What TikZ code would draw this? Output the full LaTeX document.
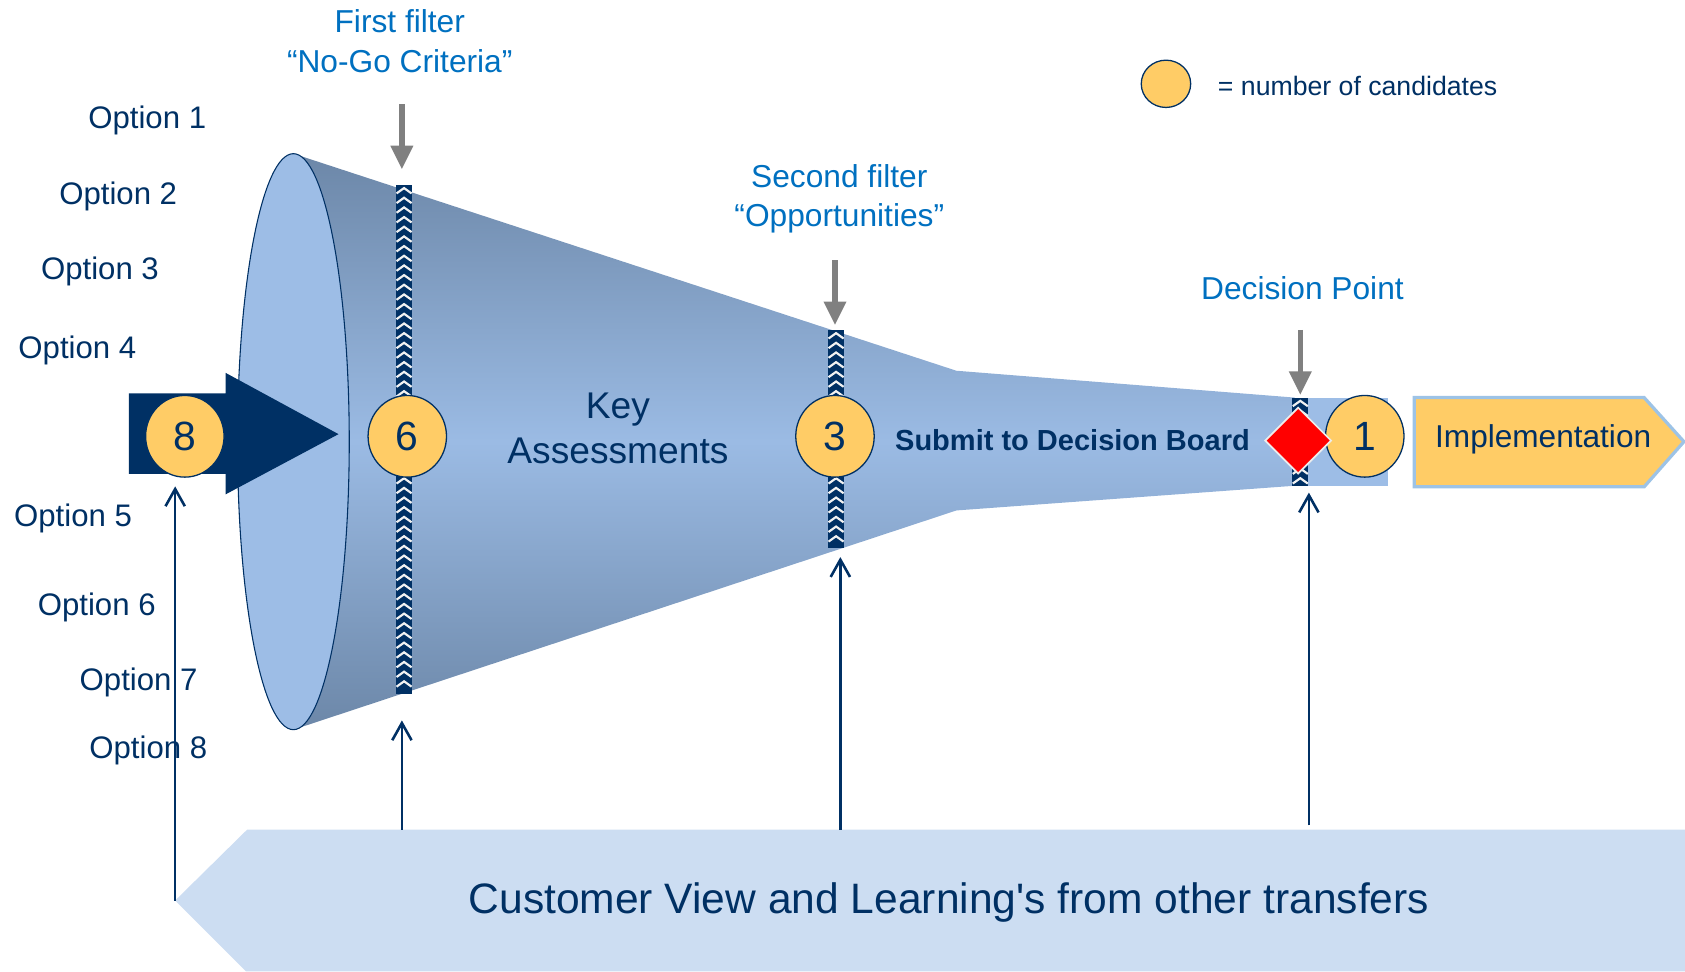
\documentclass[tikz,border=0pt]{standalone}
\usepackage{fontspec}
\setmainfont{Liberation Sans}[Ligatures=TeXOff]
\usetikzlibrary{shapes.geometric,arrows.meta}
\definecolor{navy}{RGB}{0,48,100}
\definecolor{filterblue}{RGB}{0,112,192}
\definecolor{candyellow}{RGB}{255,204,102}
\definecolor{conedark}{RGB}{108,135,168}
\definecolor{conelight}{RGB}{155,187,228}
\definecolor{mouthblue}{RGB}{157,189,230}
\definecolor{bandblue}{RGB}{204,221,242}
\definecolor{implborder}{RGB}{157,195,230}
% filter bar with chevrons: name, x, top, bottom
\newcommand{\sieve}[4]{%
  \node[sievebar, minimum height={(#4-#3)*0.5pt}] (#1) at (#2,{(#3+#4)/2}) {};
  \pgfmathtruncatemacro{\nzig}{(#4-#3-9)/9}
  \foreach \k in {0,...,\nzig}
    \draw[zig] (#2-7,#3+8+9*\k) -- (#2,#3+3+9*\k) -- (#2+7,#3+8+9*\k);
}

\begin{document}
\begin{tikzpicture}[x=0.5pt, y=-0.5pt,
  opt/.style={font=\fontsize{14.5}{17}\selectfont, text=navy, inner sep=0pt},
  filterlabel/.style={font=\fontsize{14.75}{18.5}\selectfont, text=filterblue, align=center, inner sep=0pt},
  cand/.style={ellipse, draw=navy, line width=0.6pt, fill=candyellow, minimum width=36.5pt, minimum height=38pt, inner sep=0pt, font=\fontsize{19}{22}\selectfont, text=navy},
  sievebar/.style={rectangle, fill=navy, minimum width=7.5pt, inner sep=0pt},
  zig/.style={white!90!gray, line width=1pt},
  downarr/.style={draw=gray, line width=2.5pt, -{Triangle[length=11pt,width=10pt]}},
  uparr/.style={draw=navy, line width=1.2pt, -{Straight Barb[length=8pt,width=9pt]}},
]
\useasboundingbox (0,0) rectangle (1568,904);

% background band
\fill[bandblue] (163,838) -- (230,772) -- (1600,772) -- (1600,904) -- (229,904) -- cycle;
\node[font=\fontsize{19.8}{24}\selectfont, text=navy] (band) at (883,840) {Customer View and Learning's from other transfers};

% funnel
\shade[top color=conedark, bottom color=conedark, middle color=conelight]
  (273,143) -- (890,345) -- (1205,370) -- (1205,452) -- (890,475) -- (273,679) -- cycle;
\draw[navy, line width=0.5pt, fill=mouthblue] (273,411) ellipse [x radius=52, y radius=268];
\fill[mouthblue] (1205,370) rectangle (1292,452);

% input arrow
\fill[navy] (120,366) -- (210,366) -- (210,347) -- (315,404) -- (210,460) -- (210,441) -- (120,441) -- cycle;

% filters
\sieve{f1}{376}{172}{646}
\sieve{f2}{778}{307}{510}
\sieve{f3}{1210}{370}{452}

\node[cand] (c8) at (172,406) {8};
\node[cand] (c6) at (379,406) {6};
\node[cand] (c3) at (777,406) {3};
\node[cand] (c1) at (1270,406) {1};
\node[diamond, fill=red, draw=white!85!gray, line width=0.8pt, minimum width=31pt, minimum height=31pt, inner sep=0pt] (dp) at (1208,410) {};

\node[font=\fontsize{17.3}{21}\selectfont, text=navy, align=center] (key) at (575,399) {Key\\Assessments};
\node[font=\bfseries\fontsize{13.5}{16}\selectfont, text=navy] (submit) at (998,410) {Submit to Decision Board};

% implementation
\filldraw[fill=candyellow, draw=implborder, line width=1.5pt]
  (1316,370) -- (1530,370) -- (1567,411) -- (1530,453) -- (1316,453) -- cycle;
\node[font=\fontsize{14.7}{17}\selectfont, text=navy] (impl) at (1436,409) {Implementation};

% labels
\node[filterlabel] (lab1) at (372,38) {First filter\\“No-Go Criteria”};
\node[filterlabel] (lab2) at (781,185) {Second filter\\“Opportunities”};
\node[filterlabel] (lab3) at (1212,268) {Decision Point};

\foreach \i/\x/\y in {1/137/112, 2/110/183, 3/93/253, 4/72/326, 5/68/482, 6/90/565, 7/129/635, 8/138/698}
  \node[opt] (opt\i) at (\x,\y) {Option \i};

% legend
\node[cand, minimum width=23pt, minimum height=22pt] (leg) at (1085,78) {};
\node[font=\fontsize{12.4}{15}\selectfont, text=navy, anchor=west, inner sep=0pt] (legtext) at (1133,80) {= number of candidates};

% arrows
\coordinate (out1) at (374,97);
\coordinate (out2) at (777,242);
\coordinate (out3) at (1210,307);
\draw[downarr, shorten >=7pt] (out1) -- (out1 |- f1.north);
\draw[downarr, shorten >=2pt] (out2) -- (out2 |- f2.north);
\draw[downarr, shorten >=1pt] (out3) -- (out3 |- f3.north);

\coordinate (in0) at (163,838);
\coordinate (in1) at (374,772);
\coordinate (in2) at (782,772);
\coordinate (in3) at (1218,768);
\draw[uparr, shorten >=4pt] (in0) -- (in0 |- c8.south);
\draw[uparr, shorten >=12pt] (in1) -- (in1 |- f1.south);
\draw[uparr, shorten >=4pt] (in2) -- (in2 |- f2.south);
\draw[uparr, shorten >=3pt] (in3) -- (in3 |- f3.south);
\end{tikzpicture}
\end{document}
